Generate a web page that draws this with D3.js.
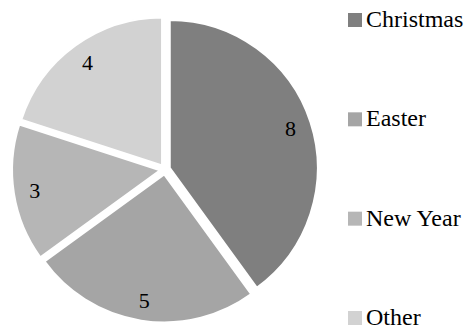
<!DOCTYPE html>
<html><head><meta charset="utf-8">
<script src="https://cdn.jsdelivr.net/npm/d3@7"></script>
<style>body{margin:0;background:#fff}svg{display:block}</style>
</head><body>
<svg id="c" width="468" height="329"></svg>
<script>
const categories = ["Christmas", "Easter", "New Year", "Other"];
const values = [8, 5, 3, 4];
const colors = ["#7f7f7f", "#a5a5a5", "#b6b6b6", "#d2d2d2"];
const FONT = "'Liberation Serif', 'Tinos', 'Times New Roman', 'DejaVu Serif', serif";

const svg = d3.select("#c");
const cx = 165, cy = 169.5, r = 148, explode = 5, labelR = 127;
const g = svg.append("g").attr("transform", `translate(${cx},${cy})`);
const pie = d3.pie().sort(null).value(d => d)(values);
const arc = d3.arc().innerRadius(0).outerRadius(r);
const labelArc = d3.arc().innerRadius(labelR).outerRadius(labelR);

const slices = g.selectAll("g.s").data(pie).enter().append("g")
  .attr("transform", d => {
    const a = (d.startAngle + d.endAngle) / 2;
    return `translate(${explode * Math.sin(a)},${-explode * Math.cos(a)})`;
  });
slices.append("path").attr("d", arc)
  .attr("fill", (d, i) => colors[i])
  .attr("stroke", "#fff").attr("stroke-width", 2).attr("stroke-linejoin", "round");
slices.append("text")
  .attr("transform", d => `translate(${labelArc.centroid(d)})`)
  .attr("text-anchor", "middle").attr("dy", "0.35em")
  .style("font-family", FONT)
  .attr("font-size", 22).attr("fill", "#000")
  .text(d => d.data);

const ly = d3.scalePoint().domain(categories).range([27, 325]);
const leg = svg.selectAll("g.l").data(categories).enter().append("g")
  .attr("transform", d => `translate(348,${ly(d)})`);
leg.append("rect").attr("x", 0).attr("y", -14).attr("width", 14).attr("height", 14)
  .attr("fill", (d, i) => colors[i]);
leg.append("text").attr("x", 18).attr("y", 0)
  .style("font-family", FONT)
  .attr("font-size", 24).attr("fill", "#000").text(d => d);
</script>
</body></html>
